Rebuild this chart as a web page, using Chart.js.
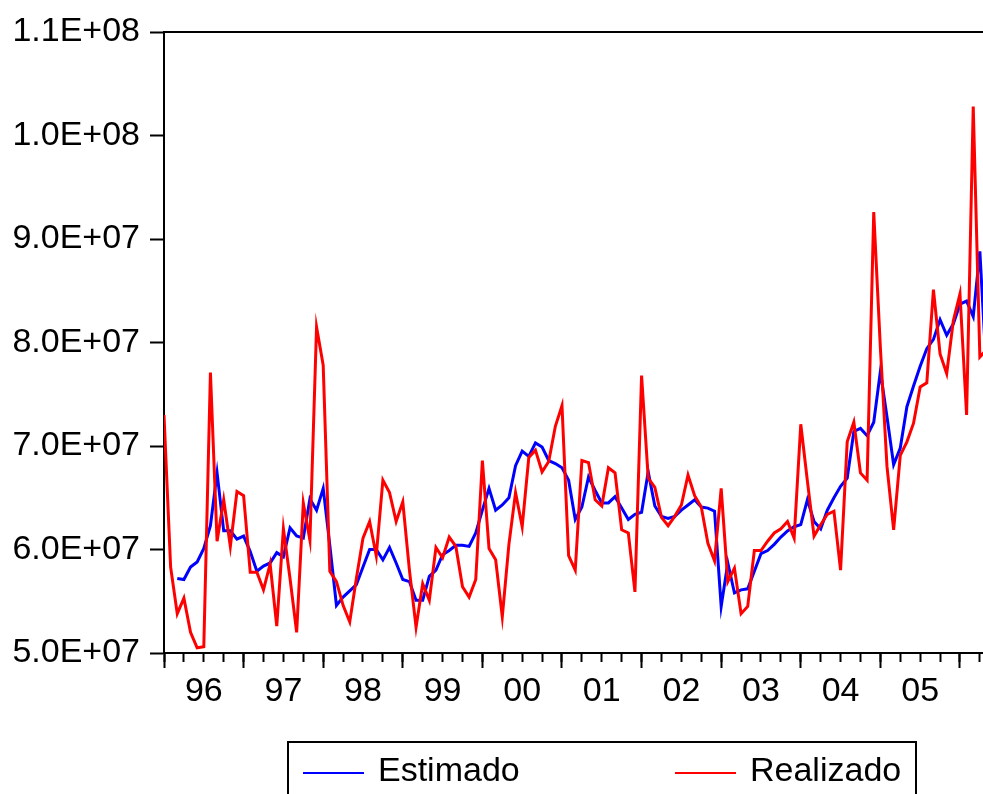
<!DOCTYPE html>
<html>
<head>
<meta charset="utf-8">
<title>Estimado vs Realizado</title>
<script src="https://cdn.jsdelivr.net/npm/chart.js@4.4.1/dist/chart.umd.min.js"></script>
<style>
  html, body { margin: 0; padding: 0; background: #fff; overflow: hidden; }
  #wrap { width: 983px; height: 794px; overflow: hidden; }
</style>
</head>
<body>
<div id="wrap"><canvas id="chart" width="1000" height="794"></canvas></div>
<script>
// monthly series from 1996M01, values in units of 1E+07
var unit = 1e7;
var yearLabels = ['96', '97', '98', '99', '00', '01', '02', '03', '04', '05'];
var yTicks = [5e7, 6e7, 7e7, 8e7, 9e7, 1e8, 1.1e8];
var seriesNames = ['Estimado', 'Realizado'];

var estimado = [
    null, null, 5.72, 5.71, 5.83, 5.88, 6.01, 6.23, 6.74, 6.18, 6.18, 6.10,
    6.13, 5.98, 5.79, 5.84, 5.87, 5.97, 5.93, 6.21, 6.13, 6.11, 6.49, 6.38,
    6.59, 6.04, 5.46, 5.54, 5.60, 5.66, 5.83, 6.00, 6.00, 5.90, 6.02, 5.87,
    5.71, 5.69, 5.51, 5.51, 5.74, 5.80, 5.95, 5.99, 6.04, 6.04, 6.03, 6.16,
    6.38, 6.59, 6.38, 6.43, 6.50, 6.81, 6.95, 6.90, 7.03, 6.99, 6.86, 6.83,
    6.79, 6.67, 6.29, 6.41, 6.70, 6.57, 6.45, 6.45, 6.51, 6.40, 6.29, 6.34,
    6.36, 6.75, 6.42, 6.32, 6.30, 6.32, 6.38, 6.43, 6.48, 6.41, 6.40, 6.37,
    5.45, 5.87, 5.58, 5.61, 5.62, 5.79, 5.96, 5.99, 6.05, 6.12, 6.18, 6.22,
    6.24, 6.48, 6.27, 6.20, 6.38, 6.50, 6.61, 6.69, 7.14, 7.17, 7.10, 7.23,
    7.72, 7.28, 6.82, 6.98, 7.38, 7.58, 7.77, 7.94, 8.03, 8.22, 8.07, 8.18,
    8.37, 8.40, 8.25, 8.88, 7.70
];

var realizado = [
    7.30, 5.83, 5.38, 5.53, 5.20, 5.05, 5.06, 7.71, 6.08, 6.48, 6.03, 6.56,
    6.52, 5.78, 5.78, 5.61, 5.86, 5.26, 6.20, 5.72, 5.20, 6.45, 6.09, 8.15,
    7.78, 5.79, 5.69, 5.46, 5.30, 5.72, 6.11, 6.27, 5.94, 6.67, 6.55, 6.27,
    6.46, 5.80, 5.25, 5.67, 5.51, 6.02, 5.92, 6.12, 6.03, 5.64, 5.54, 5.71,
    6.86, 6.01, 5.90, 5.35, 6.05, 6.55, 6.22, 6.89, 6.96, 6.75, 6.85, 7.19,
    7.39, 5.94, 5.80, 6.86, 6.84, 6.48, 6.42, 6.79, 6.74, 6.19, 6.16, 5.59,
    7.68, 6.69, 6.60, 6.31, 6.23, 6.32, 6.43, 6.72, 6.52, 6.41, 6.06, 5.89,
    6.59, 5.69, 5.82, 5.38, 5.45, 5.99, 5.99, 6.08, 6.16, 6.20, 6.27, 6.11,
    7.21, 6.66, 6.13, 6.24, 6.34, 6.37, 5.80, 7.04, 7.23, 6.74, 6.67, 9.26,
    7.95, 6.80, 6.19, 6.91, 7.04, 7.22, 7.57, 7.61, 8.51, 7.89, 7.70, 8.21,
    8.47, 7.30, 10.28, 7.86, 7.93
];

var lastMonth = realizado.length - 1;

function toPoints(arr) {
    return arr.map(function(v, i) {
        return { x: i, y: v === null ? null : v * unit };
    });
}

function sciLabel(v) {
    var e = Math.floor(Math.log10(v) + 1e-9);
    var m = v / Math.pow(10, e);
    return m.toFixed(1) + 'E+' + (e < 10 ? '0' + e : e);
}

var font34 = { family: '"Liberation Sans", Arial, sans-serif', size: 34 };

// top and right edge of the plot box
var frame = {
    id: 'frame',
    afterDraw: function(chart) {
        var a = chart.chartArea, ctx = chart.ctx;
        ctx.save();
        ctx.strokeStyle = '#000';
        ctx.lineWidth = 2;
        ctx.beginPath();
        ctx.moveTo(a.left - 1, a.top);
        ctx.lineTo(a.right, a.top);
        ctx.lineTo(a.right, a.bottom);
        ctx.stroke();
        ctx.restore();
    }
};

// boxed legend below the axis
var legendSlots = [303, 675];
var legendBox = {
    id: 'legendBox',
    afterDraw: function(chart) {
        var ctx = chart.ctx;
        ctx.save();
        ctx.strokeStyle = '#000';
        ctx.lineWidth = 2;
        ctx.strokeRect(288, 742, 628, 90);
        ctx.font = '34px "Liberation Sans", Arial, sans-serif';
        ctx.textBaseline = 'middle';
        ctx.fillStyle = '#000';
        chart.data.datasets.forEach(function(ds, i) {
            var x = legendSlots[i];
            ctx.strokeStyle = ds.borderColor;
            ctx.lineWidth = 2;
            ctx.beginPath();
            ctx.moveTo(x, 773);
            ctx.lineTo(x + 61, 773);
            ctx.stroke();
            ctx.fillText(ds.label, x + 75, 772);
        });
        ctx.restore();
    }
};

var ctx = document.getElementById('chart').getContext('2d');
var myChart = new Chart(ctx, {
    type: 'line',
    data: {
        datasets: [
            {
                label: seriesNames[0],
                data: toPoints(estimado),
                borderColor: '#0000FF',
                borderWidth: 3,
                pointRadius: 0,
                tension: 0,
                order: 1
            },
            {
                label: seriesNames[1],
                data: toPoints(realizado),
                borderColor: '#FF0000',
                borderWidth: 3,
                pointRadius: 0,
                tension: 0,
                order: 0
            }
        ]
    },
    options: {
        responsive: false,
        animation: false,
        layout: { padding: { left: 0, top: 32, right: 13.5, bottom: 81 } },
        plugins: {
            legend: { display: false },
            tooltip: { enabled: false }
        },
        scales: {
            x: {
                type: 'linear',
                min: 0,
                max: lastMonth,
                afterBuildTicks: function(s) {
                    var t = [];
                    for (var m = 0; m <= lastMonth; m += 3) t.push({ value: m });
                    s.ticks = t;
                },
                afterFit: function(s) {
                    s.height = 60;
                    s.paddingLeft = 0;
                    s.paddingRight = 0;
                },
                grid: { drawOnChartArea: false, tickLength: 9, tickWidth: 2, tickColor: '#000' },
                border: { color: '#000', width: 2 },
                ticks: {
                    autoSkip: false,
                    maxRotation: 0,
                    padding: 9,
                    color: '#000',
                    font: font34,
                    callback: function(v) {
                        return v % 12 === 6 ? yearLabels[(v - 6) / 12] : '';
                    }
                }
            },
            xMajor: {
                axis: 'x',
                type: 'linear',
                position: { y: 5e7 },
                min: 0,
                max: lastMonth,
                afterBuildTicks: function(s) {
                    var t = [];
                    for (var m = 0; m <= lastMonth; m += 12) t.push({ value: m });
                    s.ticks = t;
                },
                grid: { drawOnChartArea: false, tickLength: 15, tickWidth: 2, tickColor: '#000' },
                border: { display: false },
                ticks: { display: false }
            },
            y: {
                min: yTicks[0],
                max: yTicks[yTicks.length - 1],
                afterBuildTicks: function(s) {
                    s.ticks = yTicks.map(function(v) { return { value: v }; });
                },
                afterFit: function(s) {
                    s.width = 164;
                    s.paddingTop = 0;
                    s.paddingBottom = 0;
                },
                grid: { drawOnChartArea: false, tickLength: 14, tickWidth: 2, tickColor: '#000' },
                border: { color: '#000', width: 2 },
                ticks: {
                    autoSkip: false,
                    padding: 10,
                    color: '#000',
                    font: font34,
                    callback: function(v) { return sciLabel(v); }
                }
            }
        }
    },
    plugins: [frame, legendBox]
});
</script>
</body>
</html>
